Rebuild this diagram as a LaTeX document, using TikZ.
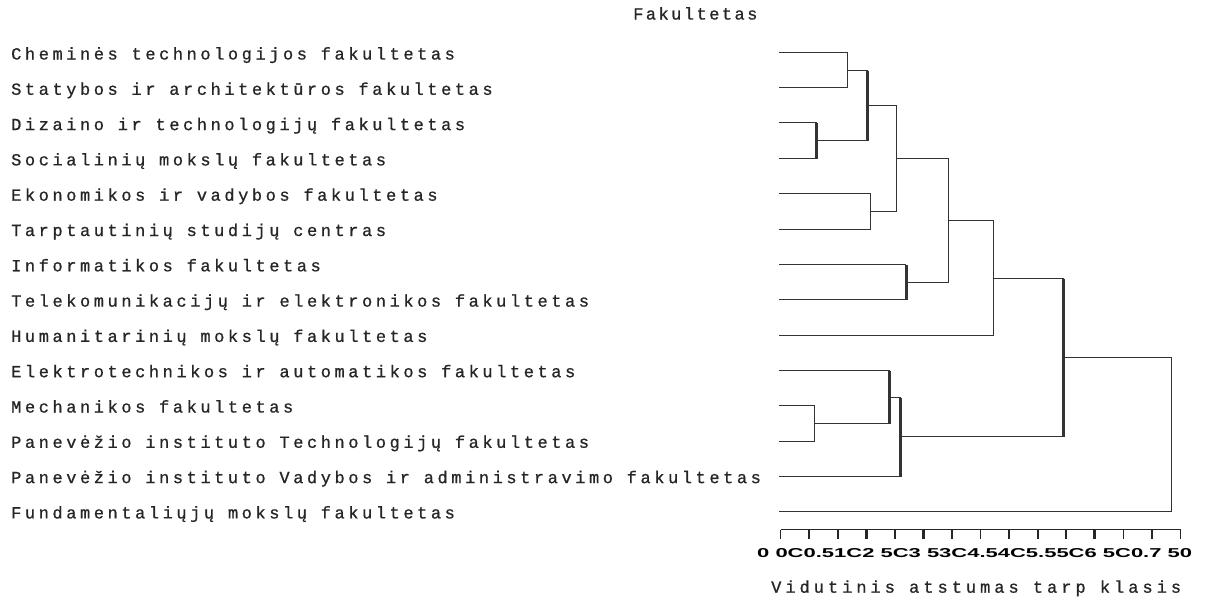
\documentclass[tikz,border=0pt]{standalone}
\usepackage{fontspec}
\newfontfamily\lblfont[LetterSpace=21,FakeBold=0.8]{Liberation Mono}
\newfontfamily\axisfont[LetterSpace=23.5,FakeBold=0.8]{Liberation Mono}
\newfontfamily\headfont[LetterSpace=14.5,FakeBold=0.8]{Liberation Mono}
\newfontfamily\tickfont{Liberation Sans}
\newcommand\joinpair[4]{%
  \draw[link] (#1) -- (#1 -| #3);
  \draw[link] (#2) -- (#2 -| #3);
  \draw[link,#4] (#1 -| #3) -- (#2 -| #3);
}
\begin{document}
\begin{tikzpicture}[x=1pt,y=-1pt,
  lbl/.style={anchor=base west,inner sep=0pt,font=\fontsize{17}{17}\selectfont\lblfont,text=black!85},
  link/.style={draw=black!80,line width=1.7pt},
  heavy/.style={line width=3.8pt},
  medium/.style={line width=3pt},
  tick/.style={draw=black!85,line width=1.7pt},
  bigtick/.style={draw=black!85,line width=3pt}]
\useasboundingbox[fill=white] (0,0) rectangle (1209,603);

% title
\node[lbl,font=\fontsize{17}{17}\selectfont\headfont] (title) at (633,19.5) {Fakultetas};

% leaf labels
\foreach \t [count=\i from 0] in {
  Cheminės technologijos fakultetas,
  Statybos ir architektūros fakultetas,
  Dizaino ir technologijų fakultetas,
  Socialinių mokslų fakultetas,
  Ekonomikos ir vadybos fakultetas,
  Tarptautinių studijų centras,
  Informatikos fakultetas,
  Telekomunikacijų ir elektronikos fakultetas,
  Humanitarinių mokslų fakultetas,
  Elektrotechnikos ir automatikos fakultetas,
  Mechanikos fakultetas,
  Panevėžio instituto Technologijų fakultetas,
  Panevėžio instituto Vadybos ir administravimo fakultetas,
  Fundamentaliųjų mokslų fakultetas} {
  \node[lbl] (n\i) at (11,59.5+35.3*\i) {\t};
}

% leaf start points
\coordinate (L0)  at (779,52.5);
\coordinate (L1)  at (779,87.5);
\coordinate (L2)  at (779,122.5);
\coordinate (L3)  at (779,158.5);
\coordinate (L4)  at (779,193.5);
\coordinate (L5)  at (779,229.5);
\coordinate (L6)  at (779,264.5);
\coordinate (L7)  at (779,299.5);
\coordinate (L8)  at (779,335.5);
\coordinate (L9)  at (779,370.5);
\coordinate (L10) at (779,405.5);
\coordinate (L11) at (779,441.5);
\coordinate (L12) at (779,476.5);
\coordinate (L13) at (779,511.5);

% merge points
\coordinate (m1)  at (847.5,70.5);
\coordinate (m2)  at (816.5,140.5);
\coordinate (m3)  at (867.5,105.5);
\coordinate (m4)  at (870.5,211.5);
\coordinate (m5)  at (896.5,158.5);
\coordinate (m6)  at (906,282.5);
\coordinate (m7)  at (948.5,220.5);
\coordinate (m8)  at (993.5,278.5);
\coordinate (m9)  at (814.5,423.5);
\coordinate (m10) at (889.5,397.5);
\coordinate (m11) at (900.5,436.5);
\coordinate (m12) at (1063.5,357.5);
\coordinate (m13) at (1171.5,434);

% dendrogram
\joinpair{L0}{L1}{m1}{}
\joinpair{L2}{L3}{m2}{heavy}
\joinpair{m1}{m2}{m3}{medium}
\joinpair{L4}{L5}{m4}{}
\joinpair{m3}{m4}{m5}{}
\joinpair{L6}{L7}{m6}{medium}
\joinpair{m5}{m6}{m7}{}
\joinpair{m7}{L8}{m8}{}
\joinpair{L10}{L11}{m9}{}
\joinpair{L9}{m9}{m10}{medium}
\joinpair{m10}{L12}{m11}{heavy}
\joinpair{m8}{m11}{m12}{heavy}
\joinpair{m12}{L13}{m13}{}

% distance axis
\coordinate (a0) at (780.5,529.5);
\coordinate (a1) at (1180.5,529.5);
\draw[tick] (a0) -- (a1);
\foreach \k in {0,...,14} {
  \pgfmathsetmacro\tx{780.5+28.571*\k}
  \ifnum\k=3 \def\ts{bigtick}\else\ifnum\k=5 \def\ts{bigtick}\else\ifnum\k=11 \def\ts{bigtick}\else\def\ts{tick}\fi\fi\fi
  \draw[\ts] (\tx,529.5) -- (\tx,538.5);
}
\node[anchor=base west,inner sep=0pt] (ticks) at (757,557.3)
  {\resizebox{435pt}{9pt}{\tickfont\bfseries 0 0C0.51C2 5C3 53C4.54C5.55C6 5C0.7 50}};
\node[lbl,font=\fontsize{17}{17}\selectfont\axisfont] (axis) at (771,592.7) {Vidutinis atstumas tarp klasis};
\end{tikzpicture}
\end{document}
